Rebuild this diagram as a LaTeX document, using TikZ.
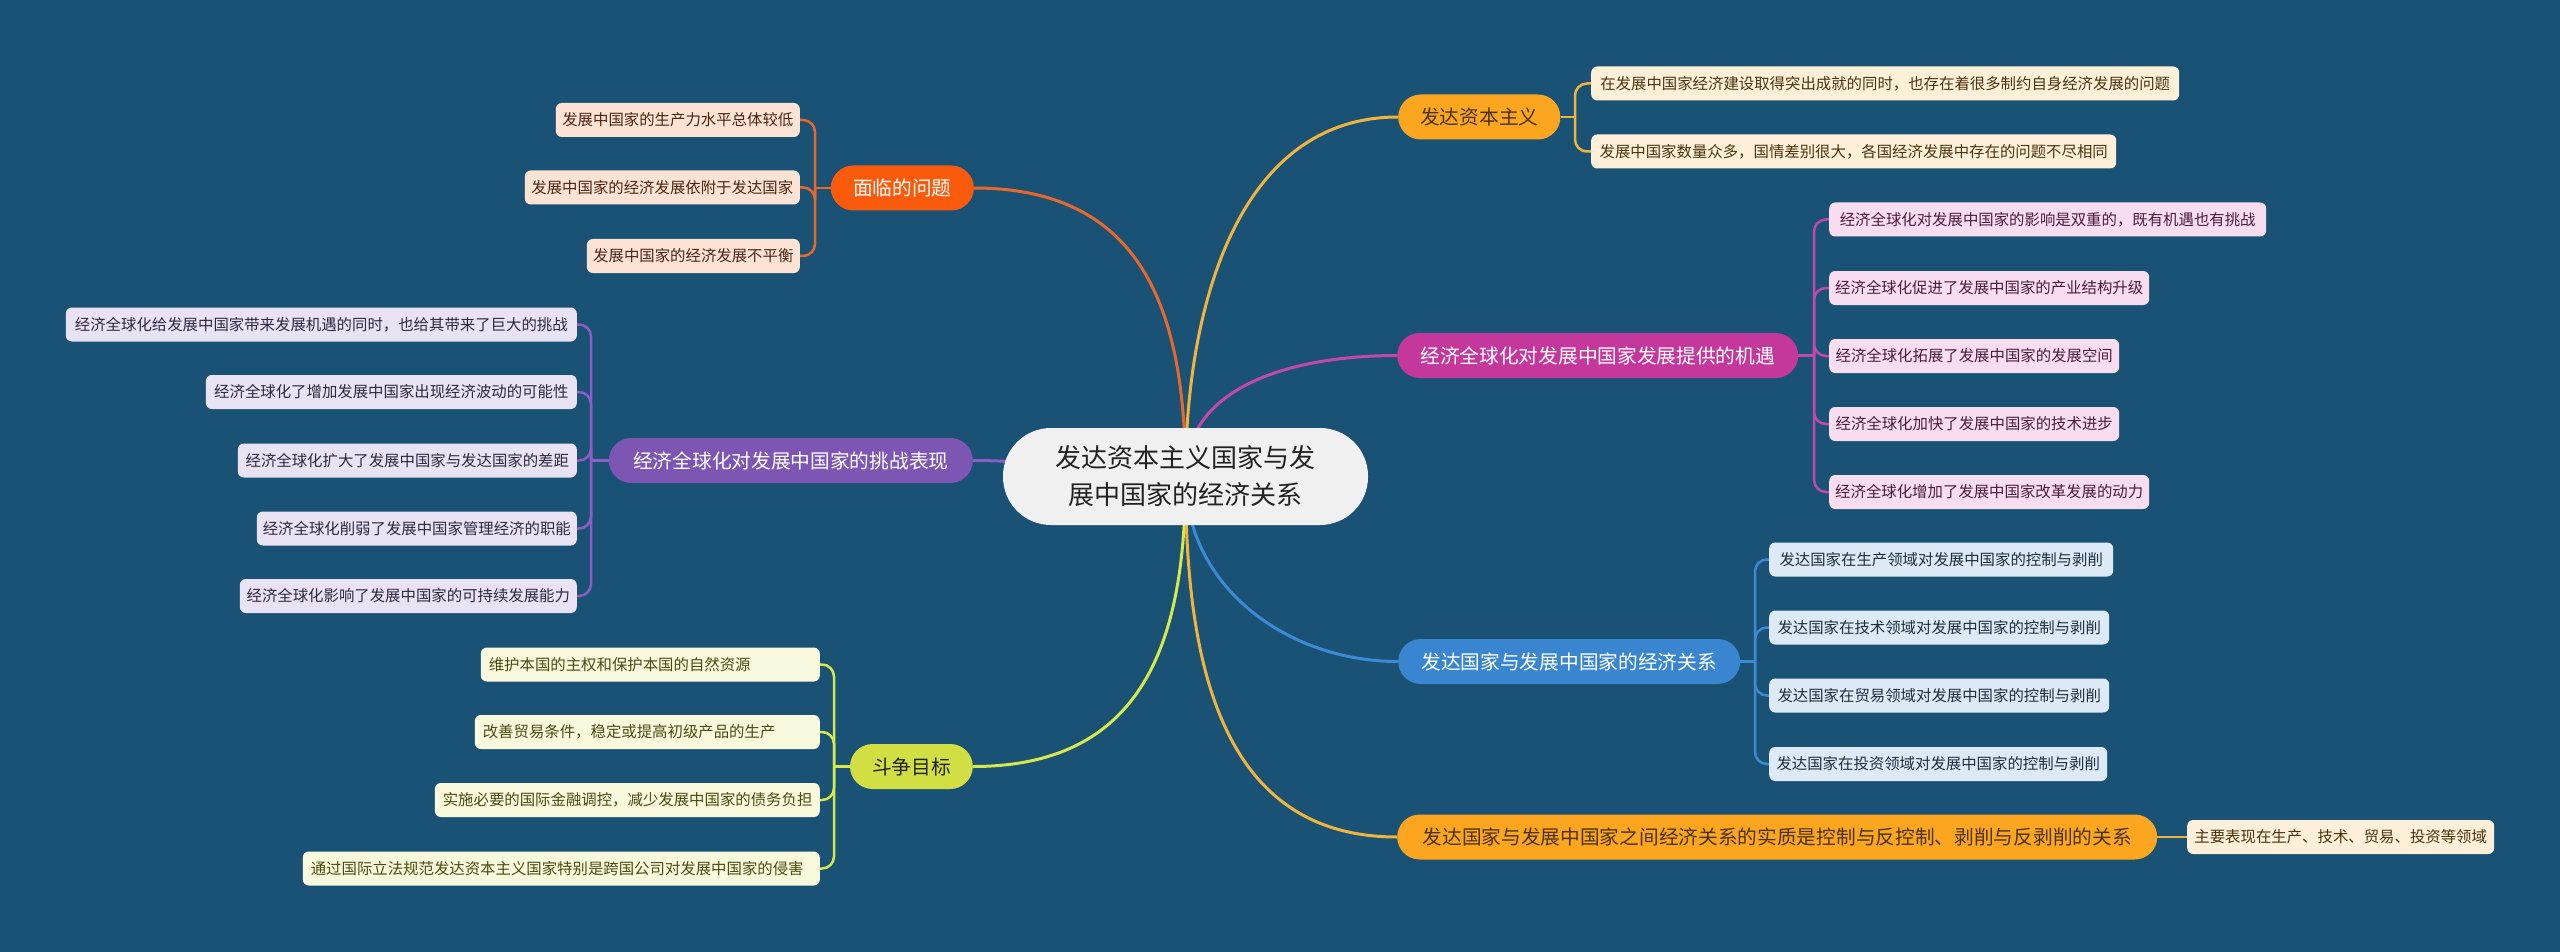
\documentclass[tikz,border=0pt]{standalone}
\usepackage{fontspec}
\newfontfamily\cjk{Noto Sans CJK SC}
\pgfdeclarelayer{bg}
\pgfdeclarelayer{edges}
\pgfsetlayers{bg,edges,main}
\definecolor{bgc}{HTML}{1A5276}
\definecolor{cfill}{HTML}{F0F0F0}
\definecolor{ctext}{HTML}{222222}
% orange
\definecolor{oMain}{HTML}{FA5A0C}
\definecolor{oEdge}{HTML}{E8682C}
\definecolor{oLeaf}{HTML}{FDE3D3}
\definecolor{oText}{HTML}{4A2612}
% purple
\definecolor{pMain}{HTML}{7D56B4}
\definecolor{pEdge}{HTML}{8A5EC2}
\definecolor{pLeaf}{HTML}{E9E2F2}
\definecolor{pText}{HTML}{2E2840}
% yellow-green
\definecolor{yMain}{HTML}{D2DF42}
\definecolor{yEdge}{HTML}{D6E84C}
\definecolor{yLeaf}{HTML}{F8F8DC}
\definecolor{yText}{HTML}{4B4A12}
% amber
\definecolor{aMain}{HTML}{FBA61E}
\definecolor{aEdge}{HTML}{F0B43C}
\definecolor{aLeaf}{HTML}{FEF0D8}
\definecolor{aText}{HTML}{4A3310}
% magenta
\definecolor{mMain}{HTML}{C4389B}
\definecolor{mEdge}{HTML}{C248AA}
\definecolor{mLeaf}{HTML}{F7DDEF}
\definecolor{mText}{HTML}{4A1C3C}
% blue
\definecolor{bMain}{HTML}{3A85CF}
\definecolor{bEdge}{HTML}{3C8AD5}
\definecolor{bLeaf}{HTML}{DDEAF6}
\definecolor{bText}{HTML}{1F2D3F}
\tikzset{
  hub/.style={rounded corners=48pt, fill=cfill, text=ctext, minimum width=365pt, minimum height=97pt,
    align=center, inner sep=0pt, font=\cjk\fontsize{26}{37}\selectfont},
  branch/.style={rounded corners=22.5pt, minimum height=45pt, inner xsep=22pt, inner ysep=0pt,
    font=\cjk\fontsize{19.7}{22}\selectfont},
  leaf/.style={rounded corners=6pt, minimum height=34pt, inner xsep=6pt, inner ysep=0pt,
    font=\cjk\fontsize{15.4}{18}\selectfont},
  mainedge/.style={line width=3pt},
  leafedge/.style={line width=2.5pt, rounded corners=12pt},
}
\begin{document}
\begin{tikzpicture}[x=1pt,y=-1pt]
\begin{pgfonlayer}{bg}
\fill[bgc] (0,0) rectangle (2560,952);
\end{pgfonlayer}
\useasboundingbox (0,0) rectangle (2560,952);

% central
\node[hub] (c) at (1185.5,476.5) {发达资本主义国家与发\\展中国家的经济关系};

% main branches
\node[branch, fill=oMain, text=white, anchor=east, minimum width=143pt] (n1) at (974,188) {面临的问题};
\node[branch, fill=pMain, text=white, anchor=east, minimum width=364pt] (n2) at (973,460.5) {经济全球化对发展中国家的挑战表现};
\node[branch, fill=yMain, text=ctext, anchor=east, minimum width=122pt] (n3) at (973,766.5) {斗争目标};
\node[branch, fill=aMain, text=aText, anchor=west, minimum width=162pt] (n4) at (1398,117) {发达资本主义};
\node[branch, fill=mMain, text=white, anchor=west, minimum width=401pt] (n5) at (1397,355.5) {经济全球化对发展中国家发展提供的机遇};
\node[branch, fill=bMain, text=white, anchor=west, minimum width=342pt] (n6) at (1398,661.5) {发达国家与发展中国家的经济关系};
\node[branch, fill=aMain, text=aText, anchor=west, minimum width=760pt] (n7) at (1397,837) {发达国家与发展中国家之间经济关系的实质是控制与反控制、剥削与反剥削的关系};

% orange leaves
\node[leaf, fill=oLeaf, text=oText, anchor=east, minimum width=244pt] (o1) at (800,120) {发展中国家的生产力水平总体较低};
\node[leaf, fill=oLeaf, text=oText, anchor=east, minimum width=275pt] (o2) at (800,187.5) {发展中国家的经济发展依附于发达国家};
\node[leaf, fill=oLeaf, text=oText, anchor=east, minimum width=213pt] (o3) at (800,256) {发展中国家的经济发展不平衡};

% purple leaves
\node[leaf, fill=pLeaf, text=pText, anchor=east, minimum width=511pt] (p1) at (577,324.5) {经济全球化给发展中国家带来发展机遇的同时，也给其带来了巨大的挑战};
\node[leaf, fill=pLeaf, text=pText, anchor=east, minimum width=371pt] (p2) at (577,392) {经济全球化了增加发展中国家出现经济波动的可能性};
\node[leaf, fill=pLeaf, text=pText, anchor=east, minimum width=339pt] (p3) at (577,460.5) {经济全球化扩大了发展中国家与发达国家的差距};
\node[leaf, fill=pLeaf, text=pText, anchor=east, minimum width=320pt] (p4) at (577,528.5) {经济全球化削弱了发展中国家管理经济的职能};
\node[leaf, fill=pLeaf, text=pText, anchor=east, minimum width=337pt] (p5) at (577,596) {经济全球化影响了发展中国家的可持续发展能力};

% yellow leaves
\node[leaf, fill=yLeaf, text=yText, anchor=east, inner xsep=8pt, text width=323pt, align=left] (y1) at (820,664.5) {维护本国的主权和保护本国的自然资源};
\node[leaf, fill=yLeaf, text=yText, anchor=east, inner xsep=8pt, text width=329pt, align=left] (y2) at (820,732) {改善贸易条件，稳定或提高初级产品的生产};
\node[leaf, fill=yLeaf, text=yText, anchor=east, inner xsep=8pt, text width=369pt, align=left] (y3) at (820,800) {实施必要的国际金融调控，减少发展中国家的债务负担};
\node[leaf, fill=yLeaf, text=yText, anchor=east, inner xsep=8pt, text width=501pt, align=left] (y4) at (820,868.5) {通过国际立法规范发达资本主义国家特别是跨国公司对发展中国家的侵害};

% amber leaves
\node[leaf, fill=aLeaf, text=aText, anchor=west, minimum width=588pt] (a1) at (1591,83.5) {在发展中国家经济建设取得突出成就的同时，也存在着很多制约自身经济发展的问题};
\node[leaf, fill=aLeaf, text=aText, anchor=west, minimum width=525pt] (a2) at (1591,151.5) {发展中国家数量众多，国情差别很大，各国经济发展中存在的问题不尽相同};

% magenta leaves
\node[leaf, fill=mLeaf, text=mText, anchor=west, minimum width=437pt] (m1) at (1829,219.5) {经济全球化对发展中国家的影响是双重的，既有机遇也有挑战};
\node[leaf, fill=mLeaf, text=mText, anchor=west, minimum width=320pt] (m2) at (1829,288) {经济全球化促进了发展中国家的产业结构升级};
\node[leaf, fill=mLeaf, text=mText, anchor=west, minimum width=290pt] (m3) at (1829,356) {经济全球化拓展了发展中国家的发展空间};
\node[leaf, fill=mLeaf, text=mText, anchor=west, minimum width=290pt] (m4) at (1829,424) {经济全球化加快了发展中国家的技术进步};
\node[leaf, fill=mLeaf, text=mText, anchor=west, minimum width=320pt] (m5) at (1829,492) {经济全球化增加了发展中国家改革发展的动力};

% blue leaves
\node[leaf, fill=bLeaf, text=bText, anchor=west, minimum width=344pt] (b1) at (1769,559.5) {发达国家在生产领域对发展中国家的控制与剥削};
\node[leaf, fill=bLeaf, text=bText, anchor=west, minimum width=340pt] (b2) at (1769,627.5) {发达国家在技术领域对发展中国家的控制与剥削};
\node[leaf, fill=bLeaf, text=bText, anchor=west, minimum width=340pt] (b3) at (1769,695.5) {发达国家在贸易领域对发展中国家的控制与剥削};
\node[leaf, fill=bLeaf, text=bText, anchor=west, minimum width=338pt] (b4) at (1769,764) {发达国家在投资领域对发展中国家的控制与剥削};

% amber 2 leaf
\node[leaf, fill=aLeaf, text=aText, anchor=west, minimum width=307pt] (s1) at (2187,837) {主要表现在生产、技术、贸易、投资等领域};

% fork points
\coordinate (fO) at (815,188);
\coordinate (fP) at (591,460.5);
\coordinate (fY) at (834,766.5);
\coordinate (fA) at (1575,117);
\coordinate (fM) at (1814,355.5);
\coordinate (fB) at (1755,661.5);

\begin{pgfonlayer}{edges}
% main edges
\draw[mainedge, oEdge] (c.center) to[out=90,in=0,looseness=1.2] (n1.east);
\draw[mainedge, pEdge] (c.center) to[out=180,in=0] (n2.east);
\draw[mainedge, yEdge] (c.center) to[out=-90,in=0,looseness=1.2] (n3.east);
\draw[mainedge, aEdge] (c.center) to[out=90,in=180,looseness=1.0] (n4.west);
\draw[mainedge, mEdge] (c.center) to[out=90,in=180] (n5.west);
\draw[mainedge, bEdge] (c.center) to[out=-90,in=180] (n6.west);
\draw[mainedge, aEdge] (c.center) to[out=-90,in=180,looseness=1.1] (n7.west);
% orange
\draw[leafedge, oEdge] (n1.west) -- (fO);
\foreach \k in {o1,o2,o3} \draw[leafedge, oEdge] (fO) |- (\k.east);
% purple
\draw[leafedge, pEdge] (n2.west) -- (fP);
\foreach \k in {p1,p2,p3,p4,p5} \draw[leafedge, pEdge] (fP) |- (\k.east);
% yellow
\draw[leafedge, yEdge] (n3.west) -- (fY);
\foreach \k in {y1,y2,y3,y4} \draw[leafedge, yEdge] (fY) |- (\k.east);
% amber
\draw[leafedge, aEdge] (n4.east) -- (fA);
\foreach \k in {a1,a2} \draw[leafedge, aEdge] (fA) |- (\k.west);
% magenta
\draw[leafedge, mEdge] (n5.east) -- (fM);
\foreach \k in {m1,m2,m3,m4,m5} \draw[leafedge, mEdge] (fM) |- (\k.west);
% blue
\draw[leafedge, bEdge] (n6.east) -- (fB);
\foreach \k in {b1,b2,b3,b4} \draw[leafedge, bEdge] (fB) |- (\k.west);
% amber 2
\draw[leafedge, aEdge] (n7.east) -- (s1.west);
\end{pgfonlayer}
\end{tikzpicture}
\end{document}
